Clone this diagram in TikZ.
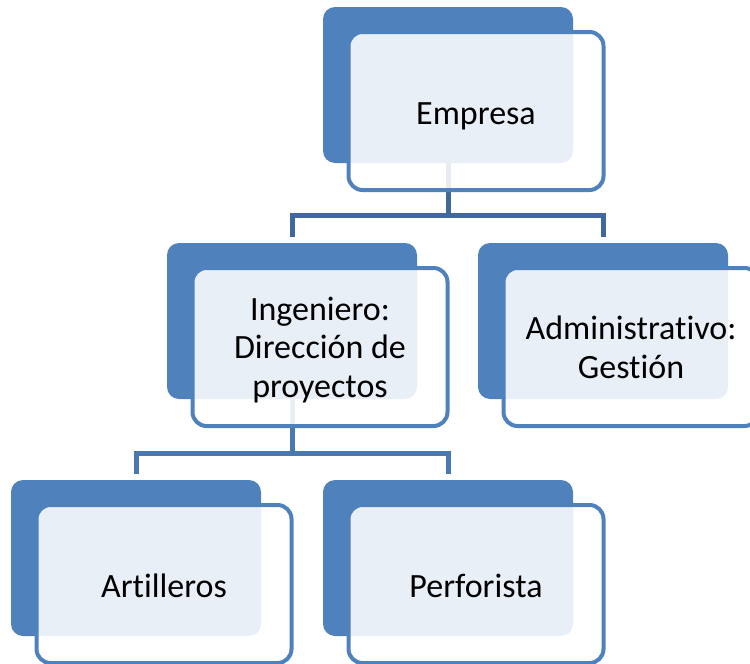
\documentclass[tikz,border=0pt]{standalone}
\usepackage{fontspec}
\setmainfont{Carlito}[RawFeature={-liga;-clig;-calt;-dlig}]
\usetikzlibrary{backgrounds}

\definecolor{boxblue}{RGB}{79,129,189}
\definecolor{linktop}{RGB}{65,104,154}
\definecolor{linkbot}{RGB}{74,120,176}

\tikzset{
  backbox/.style={rectangle, rounded corners=12pt, fill=boxblue,
    minimum width=250pt, minimum height=156pt, inner sep=0pt},
  frontbox/.style={rectangle, rounded corners=14pt, draw=boxblue, line width=4pt,
    fill=white, fill opacity=0.88, minimum width=255pt, minimum height=158pt},
  boxtext/.style={align=center, inner sep=0pt, font=\fontsize{34}{38.5}\selectfont,
    execute at begin node=\strut, execute at end node=\strut},
  link/.style={line width=5pt}
}

\begin{document}
\begin{tikzpicture}[x=1pt,y=-1pt]
  \useasboundingbox (0,0) rectangle (750,664);

  \foreach \name/\x/\y/\txt in {empresa/448/85/Empresa,
      ingeniero/292/321/{Ingeniero:\\Dirección de\\proyectos},
      admin/603/321/{Administrativo:\\Gestión},
      artilleros/136/558/Artilleros,
      perforista/448/558/Perforista} {
    \node[backbox] (\name-b) at (\x,\y) {};
    \node[frontbox] (\name) at (\x+28,\y+26) {};
    \node[boxtext] (\name-t) at ([yshift=-6pt]\name.center) {\txt};
  }

  \begin{pgfonlayer}{background}
    \foreach \to in {ingeniero, admin}
      \draw[link, linktop] (empresa-b.south) -- ++(0,-52pt) -| ([yshift=6pt]\to-b.north);
    \foreach \to in {artilleros, perforista}
      \draw[link, linkbot] (ingeniero-b.south) -- ++(0,-54pt) -| ([yshift=6pt]\to-b.north);
  \end{pgfonlayer}
\end{tikzpicture}
\end{document}
